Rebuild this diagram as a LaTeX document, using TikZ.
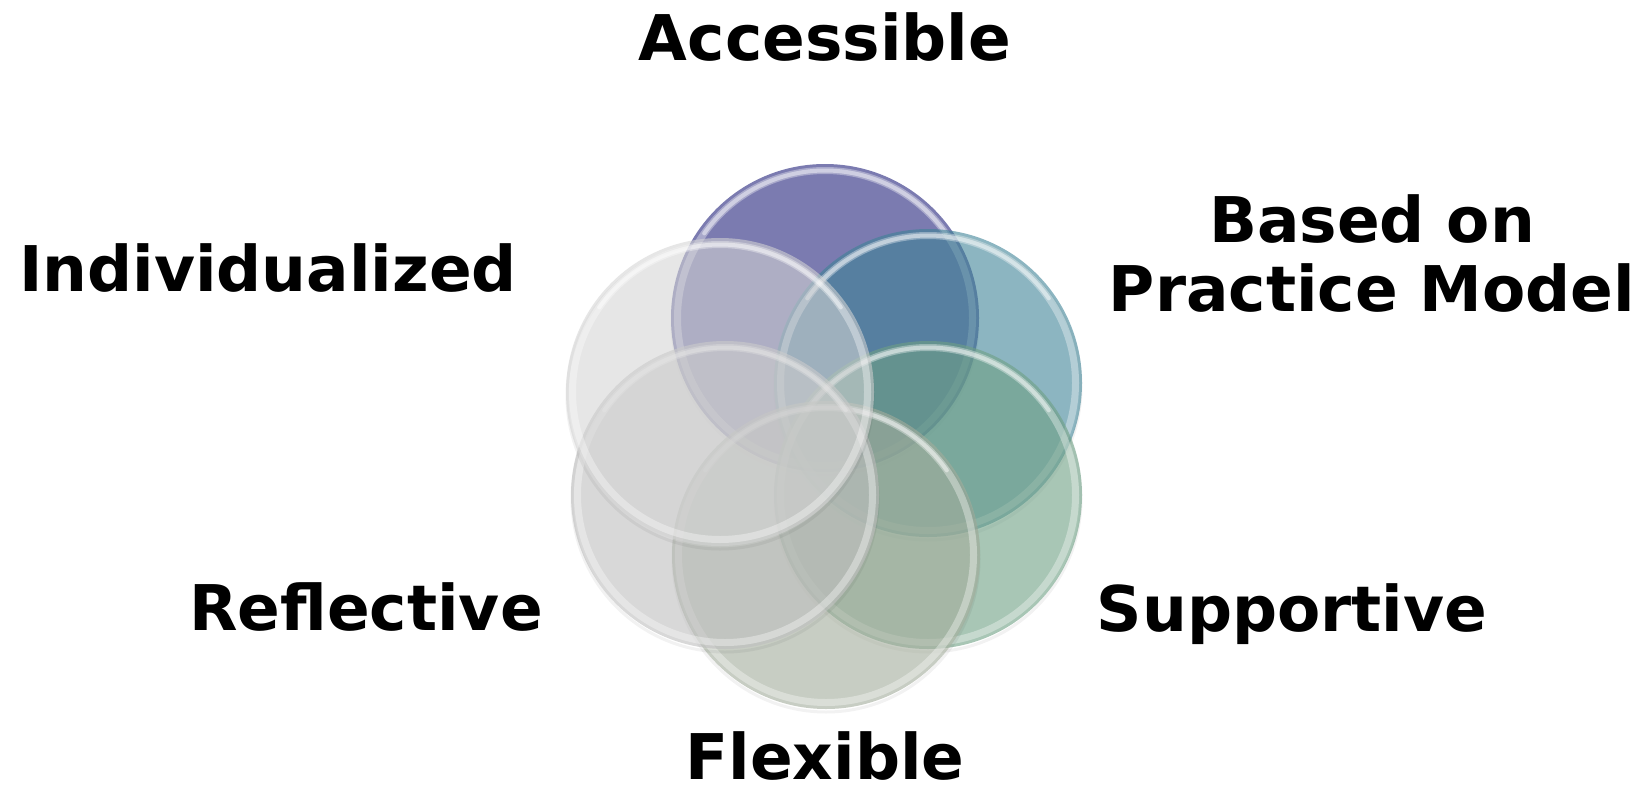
\documentclass[tikz,border=0pt]{standalone}
\usepackage{fontspec}
\setmainfont{DejaVu Sans}
\definecolor{cPurple}{RGB}{123,123,176}
\definecolor{cTeal}{RGB}{61,130,150}
\definecolor{cGreen}{RGB}{110,160,132}
\definecolor{cFlex}{RGB}{163,172,155}
\definecolor{cRefl}{RGB}{190,190,190}
\definecolor{cIndi}{RGB}{212,212,212}
\tikzset{
  disc/.style={circle, minimum size=308pt, inner sep=0pt, draw=none},
  rim/.style={draw=white, draw opacity=0.35, line width=7pt},
  gloss/.style={draw=white, draw opacity=0.45, line width=4pt, line cap=round},
  shade/.style={draw=black, draw opacity=0.05, line width=3pt},
  lbl/.style={inner sep=0pt, anchor=base, font=\bfseries\fontsize{63pt}{69pt}\selectfont, text=black},
}
\newcommand{\glassdisc}[4]{%
  \draw[shade] ([yshift=-4pt]#2) circle (153pt);
  \node[disc, fill=#3, fill opacity=#4] (#1) at (#2) {};
  \draw[rim] (#1.center) circle (147.5pt);
  \draw[gloss] (#1.center) ++(145:147.5pt) arc[start angle=145, end angle=35, radius=147.5pt];
}
\begin{document}
\begin{tikzpicture}[x=1pt, y=-1pt]
\useasboundingbox[fill=white] (0,0) rectangle (1649,795);
\glassdisc{P}{825,318}{cPurple}{1}
\glassdisc{T}{928,383}{cTeal}{0.59}
\glassdisc{G}{928,495}{cGreen}{0.6}
\glassdisc{F}{826,555}{cFlex}{0.6}
\glassdisc{R}{725,495}{cRefl}{0.6}
\glassdisc{I}{720,392}{cIndi}{0.575}
\node[lbl] (accessible) at (825,60) {Accessible};
\node[lbl] (based1) at (1372,242) {Based on};
\node[lbl] (based2) at (1372,311) {Practice Model};
\node[lbl] (individualized) at (268,291) {Individualized};
\node[lbl] (reflective) at (366,630) {Reflective};
\node[lbl] (supportive) at (1292,631) {Supportive};
\node[lbl] (flexible) at (825,779) {Flexible};
\end{tikzpicture}
\end{document}
